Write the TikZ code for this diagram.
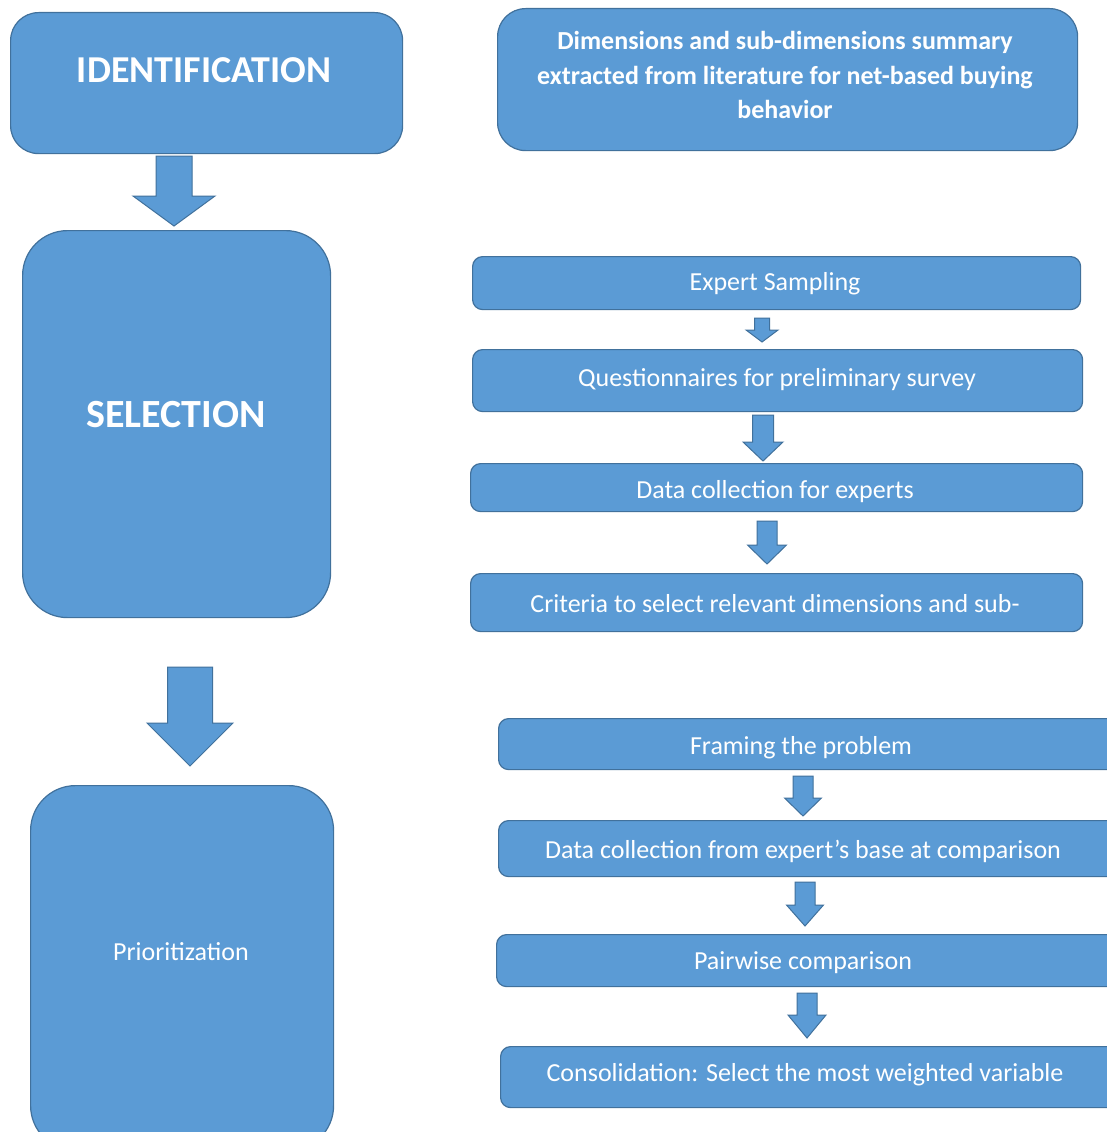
\documentclass[tikz,border=0pt]{standalone}
\usepackage{fontspec}
\setmainfont{Carlito}
\definecolor{bfill}{HTML}{5B9BD5}
\definecolor{bdraw}{HTML}{41719C}
\tikzset{
  box/.style={draw=bdraw, fill=bfill, line width=1.2pt, inner sep=0pt, rectangle, anchor=north west},
  lbl/.style={text=white, inner sep=0pt, align=center},
  barrowst/.style={draw=bdraw, fill=bfill, line width=1pt, line join=miter},
  bigA/.style={font=\fontsize{38}{42}\selectfont\bfseries},
  bigB/.style={font=\fontsize{40}{44}\selectfont\bfseries},
  mid/.style={font=\fontsize{26}{34.5}\selectfont\bfseries},
  small/.style={font=\fontsize{26}{30}\selectfont},
}
% name, x1, y1, x2, y2, radius
\newcommand\boxnode[6]{%
  \node[box, rounded corners=#6pt, minimum width={(#4-#2)*1pt}, minimum height={(#5-#3)*1pt}] (#1) at (#2,#3) {};}
% cx, ytop, ybase, ytip, shafthalf, headhalf
\newcommand\blockarrow[6]{%
  \draw[barrowst] (#1-#5,#2) -- (#1+#5,#2) -- (#1+#5,#3) -- (#1+#6,#3) -- (#1,#4) -- (#1-#6,#3) -- (#1-#5,#3) -- cycle;}
\begin{document}
\begin{tikzpicture}[x=1pt,y=-1pt]
\useasboundingbox (0,0) rectangle (1107,1132);
\clip (0,0) rectangle (1107,1132);
\fill[white] (0,0) rectangle (1107,1132);
% left column
\boxnode{ident}{10}{12}{402}{153}{28}
\node[lbl, bigA] (identtxt) at (204,70) {IDENTIFICATION};
\blockarrow{174}{156}{196}{226}{18}{41}
\boxnode{sel}{22}{230}{330}{617}{45}
\node[lbl, bigB] (seltxt) at (176,415) {SELECTION};
\blockarrow{190}{667}{723}{766}{22.5}{43}
\boxnode{prio}{30}{785}{333}{1150}{45}
\node[lbl, small] (priotxt) at (181,952) {Prioritization};
% right column
\boxnode{dims}{497}{8}{1077}{150}{28}
\node[lbl, mid] (dimstxt) at (785,75) {Dimensions and sub-dimensions summary\\extracted from literature for net-based buying\\behavior};
\boxnode{r1}{472}{256}{1080}{309}{10}
\node[lbl, small] (r1t) at (775,284) {Expert Sampling};
\blockarrow{762}{318}{330}{342}{7.5}{16}
\boxnode{r2}{472}{349}{1082}{411}{10}
\node[lbl, small] (r2t) at (777,380) {Questionnaires for preliminary survey};
\blockarrow{763}{415}{442}{461}{10.5}{20}
\boxnode{r3}{470}{463}{1082}{511}{10}
\node[lbl, small] (r3t) at (775,492) {Data collection for experts};
\blockarrow{767}{521}{545}{564}{10}{19.5}
\boxnode{r4}{470}{573}{1082}{631}{10}
\node[lbl, small] (r4t) at (775,604) {Criteria to select relevant dimensions and sub-};
\boxnode{s1}{498}{718}{1120}{769}{10}
\node[lbl, small] (s1t) at (801,748) {Framing the problem};
\blockarrow{803}{776}{798}{816}{10}{18.5}
\boxnode{s2}{498}{820}{1120}{876}{10}
\node[lbl, small] (s2t) at (803,851) {Data collection from expert’s base at comparison};
\blockarrow{805}{882}{905}{926}{10}{18.5}
\boxnode{s3}{496}{934}{1120}{986}{10}
\node[lbl, small] (s3t) at (803,963) {Pairwise comparison};
\blockarrow{807}{993}{1015}{1038}{10}{19}
\boxnode{s4}{500}{1046}{1120}{1107}{10}
\node[lbl, small] (s4t) at (805,1075) {Consolidation: Select the most weighted variable};
\end{tikzpicture}
\end{document}
